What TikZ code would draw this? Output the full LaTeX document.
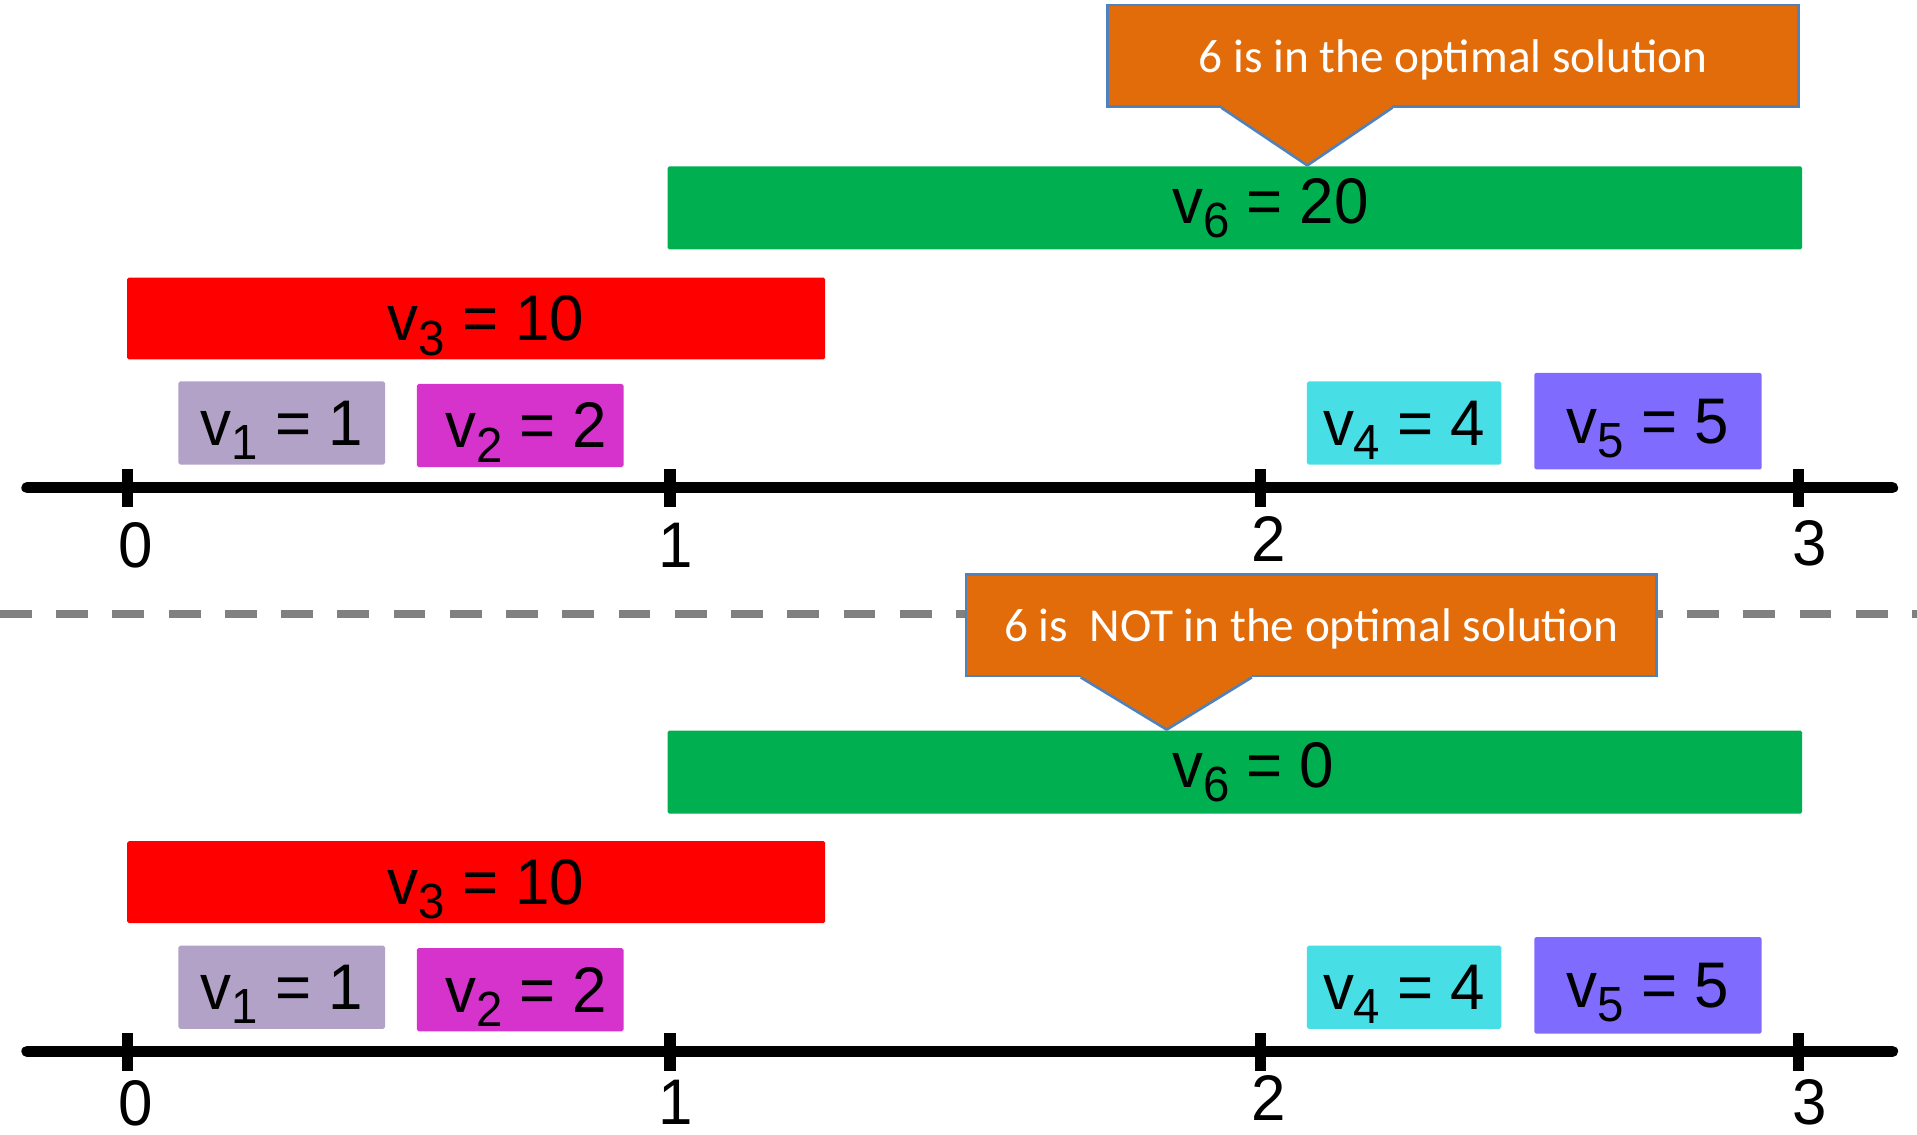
\documentclass[tikz,border=0pt]{standalone}
\usepackage{fontspec}
\setmainfont[FakeStretch=0.96]{Liberation Sans}
\newfontfamily\notafont{Carlito}
\usetikzlibrary{positioning, calc}
\definecolor{naranja}{HTML}{E36C0A}
\definecolor{borde}{HTML}{4F81BD}
\definecolor{verde}{HTML}{00B050}
\definecolor{rojo}{HTML}{FF0000}
\definecolor{lila}{HTML}{B3A2C7}
\definecolor{fucsia}{HTML}{D633CC}
\definecolor{cian}{HTML}{48DEE6}
\definecolor{violeta}{HTML}{7F6CFF}
\definecolor{gris}{HTML}{808080}
\newcommand{\valor}[2]{v\raisebox{-0.22em}{\fontsize{11.5}{12}\selectfont #1} = #2}

\begin{document}
\begin{tikzpicture}[x=0.1mm, y=-0.1mm,
		barra/.style={rectangle, rounded corners=0.4pt, inner sep=0pt, text depth=0pt, font=\fontsize{15}{18}\selectfont},
		nota/.style={rectangle, fill=naranja, draw=borde, line width=0.6pt, text=white, inner sep=0pt, text depth=0pt,
			minimum width=56.5mm, minimum height=8.3mm, font=\notafont\fontsize{11}{13}\selectfont},
		punta/.style={draw=borde, line width=0.6pt, line join=round},
		eje/.style={line width=2.6pt, line cap=round},
		marca/.style={line width=2.6pt},
		num/.style={inner sep=0pt, text depth=0pt, font=\fontsize{15}{18}\selectfont},
		corte/.style={gris, line width=1.8pt, dash pattern=on 2.6mm off 2mm}]
	\useasboundingbox (0,0) rectangle (1568,928);
	% separacion
	\draw[corte] (0,502) -- (1568,502);
	% arriba: 6 en la solucion
	\node[barra, fill=verde,   minimum width=92.8mm, minimum height=6.8mm] (g6a) at (1010,170) {};
	\node[num, anchor=west] (t6a) at (958,164) {\valor{6}{20}};
	\node[barra, fill=rojo,    minimum width=57.1mm, minimum height=6.7mm] (r3a) at (389.5,260.5) {\hspace{1.6mm}\valor{3}{10}};
	\node[barra, fill=lila,    minimum width=16.9mm, minimum height=6.8mm] (v1a) at (230.5,346) {\valor{1}{1}};
	\node[barra, fill=fucsia,  minimum width=16.9mm, minimum height=6.8mm] (v2a) at (425.5,348) {\hspace{1mm}\valor{2}{2}};
	\node[barra, fill=cian,    minimum width=15.9mm, minimum height=6.8mm] (v4a) at (1148.5,346) {\valor{4}{4}};
	\node[barra, fill=violeta, minimum width=18.6mm, minimum height=7.9mm] (v5a) at (1348,344.5) {\valor{5}{5}\hspace{4mm}};
	\draw[eje] (22,399) -- (1548,399);
	\draw[marca] (104,384) -- (104,415);
	\draw[marca] (548,384) -- (548,415);
	\draw[marca] (1031,384) -- (1031,415);
	\draw[marca] (1471,384) -- (1471,415);
	\node[num] (n0a) at (111,446) {0};
	\node[num] (n1a) at (553,446) {1};
	\node[num] (n2a) at (1038,441) {2};
	\node[num] (n3a) at (1480,444) {3};
	\node[nota] (c6a) at (1188.5,45.5) {6 is in the optimal solution};
	\fill[naranja] ($(c6a.south west)+(94,-3)$) -- ($(c6a.south west)+(94,0)$) -- ($(g6a.north west)+(524,0)$)
		-- ($(c6a.south west)+(234,0)$) -- ($(c6a.south west)+(234,-3)$) -- cycle;
	\draw[punta] ($(c6a.south west)+(94,0)$) -- ($(g6a.north west)+(524,0)$) -- ($(c6a.south west)+(234,0)$);
	% abajo: 6 fuera de la solucion
	\node[barra, fill=verde,   minimum width=92.8mm, minimum height=6.8mm] (g6b) at (1010,631.5) {};
	\node[num, anchor=west] (t6b) at (958,625.5) {\valor{6}{0}};
	\node[barra, fill=rojo,    minimum width=57.1mm, minimum height=6.7mm] (r3b) at (389.5,721.5) {\hspace{1.6mm}\valor{3}{10}};
	\node[barra, fill=lila,    minimum width=16.9mm, minimum height=6.8mm] (v1b) at (230.5,807.5) {\valor{1}{1}};
	\node[barra, fill=fucsia,  minimum width=16.9mm, minimum height=6.8mm] (v2b) at (425.5,809.5) {\hspace{1mm}\valor{2}{2}};
	\node[barra, fill=cian,    minimum width=15.9mm, minimum height=6.8mm] (v4b) at (1148.5,807.5) {\valor{4}{4}};
	\node[barra, fill=violeta, minimum width=18.6mm, minimum height=7.9mm] (v5b) at (1348,806) {\valor{5}{5}\hspace{4mm}};
	\draw[eje] (22,860) -- (1548,860);
	\draw[marca] (104,845) -- (104,876);
	\draw[marca] (548,845) -- (548,876);
	\draw[marca] (1031,845) -- (1031,876);
	\draw[marca] (1471,845) -- (1471,876);
	\node[num] (n0b) at (111,902) {0};
	\node[num] (n1b) at (553,902) {1};
	\node[num] (n2b) at (1038,898) {2};
	\node[num] (n3b) at (1480,901) {3};
	\node[nota] (c6b) at (1072.5,511.5) {6 is\ \ NOT in the optimal solution};
	\fill[naranja] ($(c6b.south west)+(95,-3)$) -- ($(c6b.south west)+(95,0)$) -- ($(g6b.north west)+(409,0)$)
		-- ($(c6b.south west)+(235,0)$) -- ($(c6b.south west)+(235,-3)$) -- cycle;
	\draw[punta] ($(c6b.south west)+(95,0)$) -- ($(g6b.north west)+(409,0)$) -- ($(c6b.south west)+(235,0)$);
\end{tikzpicture}
\end{document}
